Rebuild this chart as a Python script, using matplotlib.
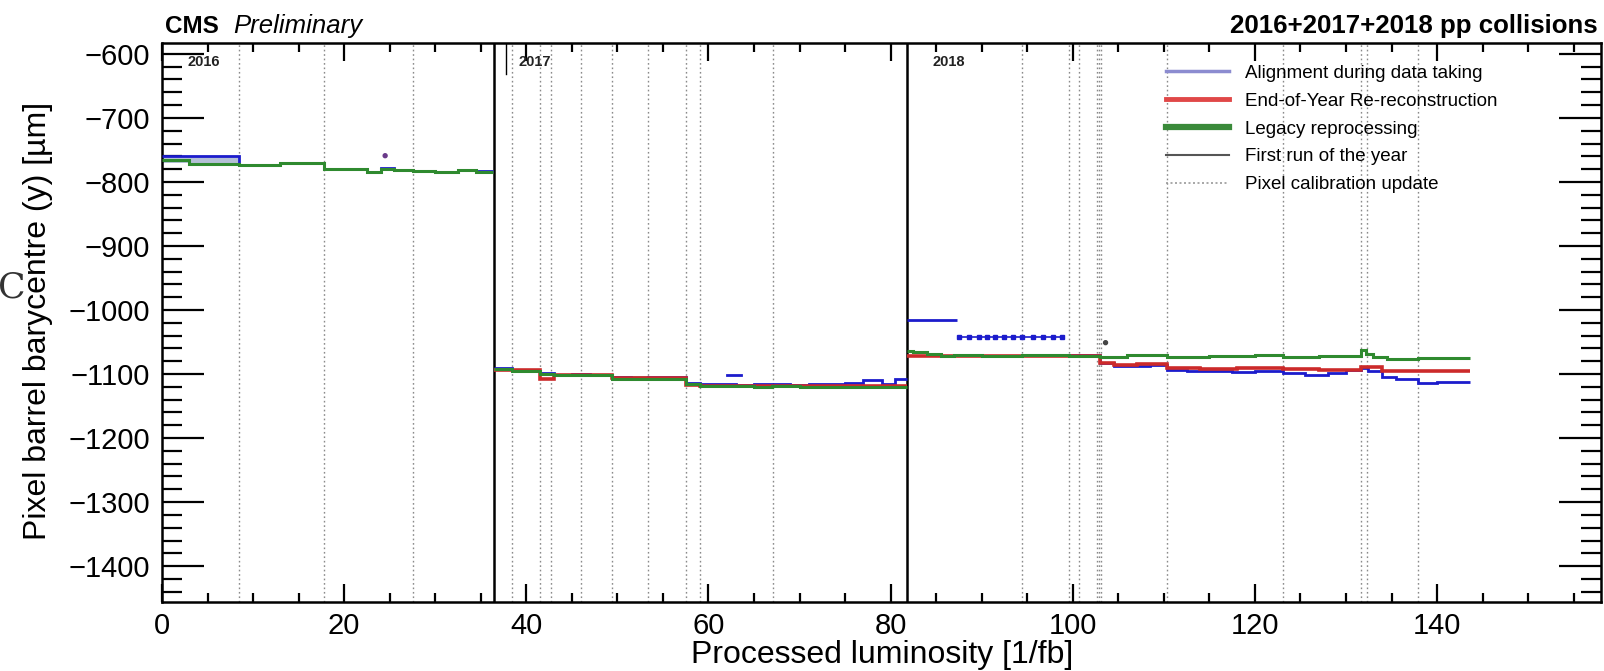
import numpy as np
import matplotlib.pyplot as plt
from matplotlib.lines import Line2D
from matplotlib.ticker import MultipleLocator

plt.rcParams['font.family'] = ['Liberation Sans', 'DejaVu Sans']

# ---- run boundaries and calibration updates [1/fb]
first_runs = [36.4, 81.8]
pixel_calib = [8.5, 17.8, 27.6, 38.4, 41.5, 42.7, 46.0, 49.4, 53.4, 57.5, 59.1, 67.1,
               94.4, 99.6, 100.7, 102.7, 102.9, 103.1, 110.4, 123.1, 131.6, 132.3, 137.9]
year_labels = ['2016', '2017', '2018']
year_label_x = [2.75, 39.1, 84.6]

# ---- Alignment during data taking (blue)
blue16_edges = [0, 8.5, 13.0, 17.8, 20.5, 22.5, 24.0, 25.5, 27.6, 30.0, 32.5, 34.5, 36.3]
blue16_vals = [-760, -773, -770, -780, -779, -784, -778, -781, -783, -784, -782, -783]
blue17_edges = [36.4, 38.4, 40.0, 41.5, 43.0, 45.0, 47.0, 49.4, 51.5, 53.4, 55.5, 57.5, 59.1,
                61.0, 63.0, 65.0, 67.0, 69.0, 71.0, 73.0, 75.0, 77.0, 79.0, 80.5, 81.8]
blue17_vals = [-1091, -1094, -1096, -1099, -1101, -1100, -1102, -1104, -1106, -1105, -1104, -1114,
               -1116, -1115, -1117, -1116, -1115, -1117, -1116, -1116, -1114, -1110, -1116, -1108]
blue17_extra_x = [62.0, 63.6]
blue17_extra_y = [-1101, -1101]
blue18a_edges = [81.8, 87.3]
blue18a_vals = [-1016]
blue18b_x = [87.5, 88.6, 89.7, 90.6, 91.5, 92.4, 93.4, 94.4, 95.6, 96.7, 97.8, 98.8]
blue18b_y = [-1042, -1042, -1042, -1042, -1042, -1042, -1042, -1042, -1042, -1042, -1042, -1042]
blue18c_edges = [99.1, 103.0, 104.5, 106.5, 108.5, 110.4, 112.5, 115.0, 117.5, 120.0, 123.1, 125.5,
                 128.0, 130.0, 131.6, 132.4, 134.0, 135.5, 137.9, 140.0, 143.6]
blue18c_vals = [-1071, -1083, -1087, -1088, -1086, -1094, -1096, -1095, -1097, -1095, -1099, -1101,
                -1098, -1093, -1090, -1095, -1105, -1108, -1114, -1113]

# ---- End-of-Year Re-reconstruction (red)
red17_edges = [36.4, 41.5, 43.0, 49.4, 57.5, 59.1, 81.8]
red17_vals = [-1093, -1108, -1101, -1106, -1117, -1119]
red18_edges = [81.8, 103.0, 104.5, 107.0, 110.4, 114.0, 118.0, 123.1, 127.0, 131.6, 134.0, 143.6]
red18_vals = [-1072, -1083, -1086, -1085, -1091, -1092, -1090, -1092, -1093, -1089, -1095]

# ---- Legacy reprocessing (green)
green16_edges = [0, 3, 8.5, 13, 17.8, 20.5, 22.5, 24, 25.5, 27.6, 30, 32.5, 34.5, 36.3]
green16_vals = [-766, -772, -774, -771, -780, -779, -785, -779, -782, -783, -784, -782, -784]
green17_edges = [36.4, 38.4, 41.5, 43.0, 46.0, 49.4, 53.4, 57.5, 59.1, 62.0, 65.0, 67.0, 70.0,
                 74.0, 78.0, 81.8]
green17_vals = [-1092, -1096, -1100, -1101, -1102, -1107, -1108, -1116, -1119, -1119, -1120,
                -1119, -1120, -1120, -1121]
green18_edges = [81.8, 82.5, 84.0, 85.5, 87.0, 90.0, 94.4, 99.6, 103.0, 106.0, 110.4, 115.0, 120.0,
                 123.1, 127.0, 131.6, 132.2, 133.0, 134.5, 137.9, 143.6]
green18_vals = [-1064, -1066, -1068, -1072, -1071, -1072, -1071, -1072, -1073, -1071, -1073, -1072,
                -1071, -1073, -1072, -1062, -1068, -1074, -1076, -1075]

# overlapping bands and single points
band16_x = [0, 8.5]
band16_top = [-760, -760]
band16_bot = [-771, -771]
band17_x = [49.4, 53.4]
band17_top = [-1103, -1103]
band17_bot = [-1111, -1111]
outlier_x = [24.5, 103.6]
outlier_y = [-759, -1051]

BLUE = '#1c1ccc'
RED = '#cc2a2a'
GREEN = '#2f8a2f'

fig = plt.figure(figsize=(16.04, 6.71), dpi=100)
ax = fig.add_axes([162 / 1604, 1 - 602 / 671, (1601 - 162) / 1604, (602 - 43) / 671])

for xv in pixel_calib:
    ax.axvline(xv, color='#8a8a8a', lw=1.0, ls=(0, (1.2, 2.0)), zorder=1)
for xv in first_runs:
    ax.axvline(xv, color='black', lw=1.8, zorder=2)
ax.plot([37.8, 37.8], [-583, -632], color='black', lw=1.0, zorder=2)

ax.fill_between(band16_x, band16_top, band16_bot, color='#b4c0d6', lw=0, zorder=2)
ax.fill_between(band17_x, band17_top, band17_bot, color='#7d8a99', lw=0, zorder=2)

# blue
for e, v in [(blue16_edges, blue16_vals), (blue17_edges, blue17_vals),
             (blue18a_edges, blue18a_vals), (blue18c_edges, blue18c_vals)]:
    ax.stairs(v, e, baseline=None, color=BLUE, lw=2.0, zorder=3)
ax.plot(blue17_extra_x, blue17_extra_y, color=BLUE, lw=2.0, zorder=3)
ax.plot(blue18b_x, blue18b_y, color=BLUE, lw=1.2, marker='s', ms=3.5, zorder=3)

# red
for e, v in [(red17_edges, red17_vals), (red18_edges, red18_vals)]:
    ax.stairs(v, e, baseline=None, color=RED, lw=2.6, zorder=4)

# green
for e, v in [(green16_edges, green16_vals), (green17_edges, green17_vals),
             (green18_edges, green18_vals)]:
    ax.stairs(v, e, baseline=None, color=GREEN, lw=2.2, zorder=5)

ax.scatter(outlier_x, outlier_y, s=8, color=['#6a3a8a', '#444444'], zorder=6)

for lab, xv in zip(year_labels, year_label_x):
    ax.text(xv, -612, lab, fontsize=10.5, fontweight='bold', ha='left', va='center', color='#222222')

ax.set_xlim(0, 158)
ax.set_ylim(-1456, -583)

ax.xaxis.set_major_locator(MultipleLocator(20))
ax.xaxis.set_minor_locator(MultipleLocator(5))
ax.yaxis.set_major_locator(MultipleLocator(100))
ax.yaxis.set_minor_locator(MultipleLocator(20))
ax.tick_params(which='both', direction='in', top=True, right=True, width=1.6, labelsize=21)
ax.tick_params(axis='x', which='major', length=13, pad=7.5)
ax.tick_params(axis='x', which='minor', length=6.5)
ax.tick_params(axis='y', which='major', length=30, pad=8.6)
ax.tick_params(axis='y', which='minor', length=14.5)
for sp in ax.spines.values():
    sp.set_linewidth(1.8)

handles = [
    Line2D([], [], color='#8c8cd0', lw=2.5),
    Line2D([], [], color='#e04848', lw=3.5),
    Line2D([], [], color='#3a8a3a', lw=4.5),
    Line2D([], [], color='#555555', lw=1.5),
    Line2D([], [], color='#999999', lw=1.2, ls=(0, (1.2, 1.5))),
]
labels = ['Alignment during data taking', 'End-of-Year Re-reconstruction',
          'Legacy reprocessing', 'First run of the year', 'Pixel calibration update']
ax.legend(handles, labels, loc='upper left', bbox_to_anchor=(0.6975, 0.961), frameon=False,
          fontsize=13.5, handlelength=3.4, handletextpad=0.85, labelspacing=0.57,
          borderpad=0, borderaxespad=0)

fig.text(165 / 1604, 1 - 33 / 671, 'CMS', fontsize=17.5, fontweight='bold', va='baseline')
fig.text(233 / 1604, 1 - 33 / 671, 'Preliminary', fontsize=18.5, style='italic', va='baseline')
fig.text(1598 / 1604, 1 - 33 / 671, '2016+2017+2018 pp collisions', fontsize=18.6,
         fontweight='bold', ha='right', va='baseline')
fig.text(882 / 1604, 1 - 663 / 671, 'Processed luminosity [1/fb]', fontsize=23,
         ha='center', va='baseline')
fig.text(38 / 1604, 1 - 321 / 671, 'Pixel barrel barycentre (y) [\u00b5m]', fontsize=23,
         rotation=90, ha='center', va='center')
fig.text(-2 / 1604, 1 - 287 / 671, 'C', fontsize=26, family='DejaVu Serif',
         ha='left', va='center', color='#333333')

fig.savefig('out.png', dpi=100)
